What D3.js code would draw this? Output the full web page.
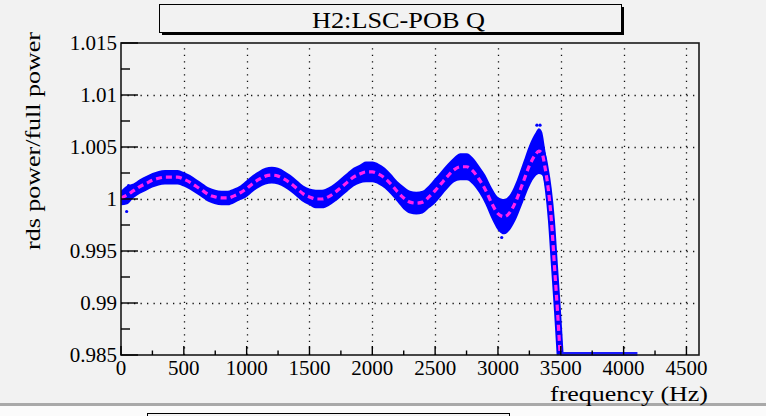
<!DOCTYPE html>
<html>
<head>
<meta charset="utf-8">
<script src="https://cdn.jsdelivr.net/npm/d3@7"></script>
<style>
  html, body { margin: 0; padding: 0; background: #ffffff; }
  svg { display: block; }
  text { font-family: "Liberation Serif", "Times New Roman", serif; fill: #000; }
</style>
</head>
<body>
<svg id="chart" width="766" height="416"></svg>
<script>
// Ratio of RDS power to full power versus frequency (channel H2:LSC-POB Q)
const freq = [
  0, 50, 100, 150, 200, 250, 300, 350, 400, 450,
  500, 550, 600, 650, 700, 750, 800, 850, 900, 950,
  1000, 1050, 1100, 1150, 1200, 1250, 1300, 1350, 1400, 1450,
  1500, 1550, 1600, 1650, 1700, 1750, 1800, 1850, 1900, 1950,
  2000, 2050, 2100, 2150, 2200, 2250, 2300, 2350, 2400, 2450,
  2500, 2550, 2600, 2650, 2700, 2750, 2800, 2850, 2900, 2950,
  3000, 3050, 3100, 3150, 3200, 3250, 3300, 3325, 3350, 3375,
  3400, 3425, 3450, 3475, 3495
];
// mean ratio (dashed magenta curve)
const ratio = [
  1.0001, 1.0004, 1.0008, 1.0012, 1.0015, 1.0018, 1.0020, 1.0021, 1.0021, 1.0021,
  1.0019, 1.0016, 1.0012, 1.0008, 1.0004, 1.0002, 1.0001, 1.0001, 1.0003, 1.0006,
  1.0010, 1.0015, 1.0019, 1.0022, 1.0023, 1.0022, 1.0019, 1.0015, 1.0010, 1.0005,
  1.0002, 1.0000, 1.0000, 1.0002, 1.0006, 1.0011, 1.0016, 1.0021, 1.0024, 1.0026,
  1.0026, 1.0024, 1.0020, 1.0014, 1.0007, 1.0001, 0.9997, 0.9996, 0.9997, 1.0002,
  1.0008, 1.0015, 1.0022, 1.0028, 1.0031, 1.0031, 1.0027, 1.0019, 1.0009, 0.9996,
  0.9986, 0.9983, 0.9988, 1.0000, 1.0016, 1.0032, 1.0043, 1.0046, 1.0044, 1.0030,
  1.0010, 0.9980, 0.9935, 0.9890, 0.9850
];
// half-width of the scatter of individual measurements (blue band)
const spread = [
  0.0007, 0.0009, 0.0007, 0.0007, 0.0007, 0.0007, 0.0007, 0.0007, 0.0007, 0.0007,
  0.0007, 0.0007, 0.0007, 0.0007, 0.0007, 0.0007, 0.0007, 0.0007, 0.0007, 0.0007,
  0.0008, 0.0008, 0.0008, 0.0008, 0.0008, 0.0008, 0.0008, 0.0008, 0.0008, 0.0008,
  0.0008, 0.0009, 0.0009, 0.0009, 0.0009, 0.0009, 0.0009, 0.0009, 0.0009, 0.0010,
  0.0010, 0.0010, 0.0010, 0.0010, 0.0010, 0.0011, 0.0011, 0.0011, 0.0011, 0.0011,
  0.0012, 0.0012, 0.0012, 0.0012, 0.0013, 0.0013, 0.0013, 0.0013, 0.0014, 0.0015,
  0.0016, 0.0017, 0.0017, 0.0018, 0.0019, 0.0020, 0.0021, 0.0022, 0.0021, 0.0018,
  0.0016, 0.0014, 0.0012, 0.0010, 0.0008
];
// isolated measurements outside the main band
const strays = [
  [45, 0.9988], [60, 1.0013], [3310, 1.0071], [3335, 1.0071],
  [3030, 0.9963], [2860, 1.0012], [3080, 0.9998]
];
// frequencies past the cutoff where the ratio sits at the bottom of the range
const floorRun = [3495, 4110];

const xTicks = [0, 500, 1000, 1500, 2000, 2500, 3000, 3500, 4000, 4500];
const xMinor = [250, 750, 1250, 1750, 2250, 2750, 3250, 3750, 4250];
const yTicks = [0.985, 0.99, 0.995, 1, 1.005, 1.01, 1.015];
const yTickLabels = ["0.985", "0.99", "0.995", "1", "1.005", "1.01", "1.015"];
const yMinor = [0.9875, 0.9925, 0.9975, 1.0025, 1.0075, 1.0125];
const titleText = "H2:LSC-POB Q";
const xTitle = "frequency (Hz)";
const yTitle = "rds power/full power";

const svg = d3.select("#chart");
const bg = "#f2f2f2";
const frame = { l: 121, r: 699, t: 43, b: 355 };

const x = d3.scaleLinear().domain([0, 4600]).range([frame.l, frame.r]);
const y = d3.scaleLinear().domain([0.985, 1.015]).range([frame.b, frame.t]).clamp(true);

// canvas
svg.append("rect").attr("x", 0).attr("y", 0).attr("width", 766).attr("height", 403).attr("fill", bg);
svg.append("rect").attr("x", 0).attr("y", 403).attr("width", 766).attr("height", 3).attr("fill", "#a9a9a9");
svg.append("rect").attr("x", 0).attr("y", 406).attr("width", 766).attr("height", 10).attr("fill", "#fbfbfb");

// lower pad title box (partially visible)
svg.append("rect").attr("x", 147.5).attr("y", 413.5).attr("width", 362).attr("height", 10)
  .attr("fill", bg).attr("stroke", "#000").attr("stroke-width", 1);

// title box with shadow
svg.append("rect").attr("x", 162).attr("y", 7).attr("width", 462).attr("height", 28).attr("fill", "#000");
svg.append("rect").attr("x", 159.5).attr("y", 4.5).attr("width", 462).attr("height", 28)
  .attr("fill", bg).attr("stroke", "#000").attr("stroke-width", 1);
svg.append("text").attr("x", 312).attr("y", 28).attr("font-size", 23)
  .attr("textLength", 173).attr("lengthAdjust", "spacingAndGlyphs").text(titleText);

// grid
const grid = svg.append("g").attr("stroke", "#111").attr("stroke-width", 1.3)
  .attr("stroke-dasharray", "1.3,5.2");
grid.selectAll("line.gx").data(xTicks.filter(v => v > 0)).join("line")
  .attr("x1", d => Math.round(x(d)) + 0.5).attr("x2", d => Math.round(x(d)) + 0.5)
  .attr("y1", frame.b).attr("y2", frame.t + 3);
grid.selectAll("line.gy").data(yTicks.slice(1, -1)).join("line")
  .attr("y1", d => Math.round(y(d)) + 0.5).attr("y2", d => Math.round(y(d)) + 0.5)
  .attr("x1", frame.l).attr("x2", frame.r);

// data
svg.append("clipPath").attr("id", "frameClip").append("rect")
  .attr("x", frame.l).attr("y", frame.t).attr("width", frame.r - frame.l).attr("height", frame.b - frame.t + 1);
const plot = svg.append("g").attr("clip-path", "url(#frameClip)");

const pts = freq.map((f, i) => ({ f, m: ratio[i], s: spread[i] }));

plot.append("path").datum(pts)
  .attr("fill", "#0000ff")
  .attr("d", d3.area().x(d => x(d.f)).y0(d => y(d.m - d.s)).y1(d => y(d.m + d.s)).curve(d3.curveMonotoneX));

plot.append("path").datum(pts)
  .attr("fill", "none").attr("stroke", "#0000ff").attr("stroke-width", 7).attr("stroke-linejoin", "round")
  .attr("d", d3.line().x(d => x(d.f)).y(d => y(d.m)).curve(d3.curveMonotoneX));

plot.selectAll("circle.stray").data(strays).join("circle")
  .attr("cx", d => x(d[0])).attr("cy", d => y(d[1])).attr("r", 1.6).attr("fill", "#0000ff");

plot.append("line")
  .attr("x1", x(floorRun[0])).attr("x2", x(floorRun[1]))
  .attr("y1", y.range()[0]).attr("y2", y.range()[0])
  .attr("stroke", "#1a1aff").attr("stroke-width", 6);

plot.append("path").datum(pts)
  .attr("fill", "none").attr("stroke", "#ff22ee").attr("stroke-width", 3.2)
  .attr("stroke-dasharray", "6,4")
  .attr("d", d3.line().x(d => x(d.f)).y(d => y(d.m)).curve(d3.curveMonotoneX));

// frame
svg.append("rect").attr("x", frame.l).attr("y", frame.t)
  .attr("width", frame.r - frame.l).attr("height", frame.b - frame.t)
  .attr("fill", "none").attr("stroke", "#1a1a1a").attr("stroke-width", 1.6);

// ticks
const ticks = svg.append("g").attr("stroke", "#000").attr("stroke-width", 1.4);
ticks.selectAll("line.ym").data(yTicks).join("line")
  .attr("x1", frame.l).attr("x2", frame.l + 17)
  .attr("y1", d => y(d)).attr("y2", d => y(d));
ticks.selectAll("line.yn").data(yMinor).join("line")
  .attr("x1", frame.l).attr("x2", frame.l + 9)
  .attr("y1", d => y(d)).attr("y2", d => y(d));
ticks.selectAll("line.xm").data(xTicks).join("line")
  .attr("x1", d => x(d)).attr("x2", d => x(d))
  .attr("y1", frame.b).attr("y2", frame.b - 9);
ticks.selectAll("line.xn").data(xMinor).join("line")
  .attr("x1", d => x(d)).attr("x2", d => x(d))
  .attr("y1", frame.b).attr("y2", frame.b - 4.5);

// tick labels
svg.selectAll("text.yl").data(yTicks).join("text")
  .attr("x", frame.l - 4).attr("y", d => y(d) + 7)
  .attr("text-anchor", "end").attr("font-size", 21)
  .text((d, i) => yTickLabels[i]);
svg.selectAll("text.xl").data(xTicks).join("text")
  .attr("x", d => x(d)).attr("y", 375)
  .attr("text-anchor", "middle").attr("font-size", 21)
  .text(d => String(d));

// axis titles
svg.append("text").attr("x", 550).attr("y", 401).attr("font-size", 22)
  .attr("textLength", 158).attr("lengthAdjust", "spacingAndGlyphs").text(xTitle);
svg.append("text").attr("transform", "translate(40,250) rotate(-90)").attr("font-size", 22)
  .attr("textLength", 218).attr("lengthAdjust", "spacingAndGlyphs").text(yTitle);
</script>
</body>
</html>
